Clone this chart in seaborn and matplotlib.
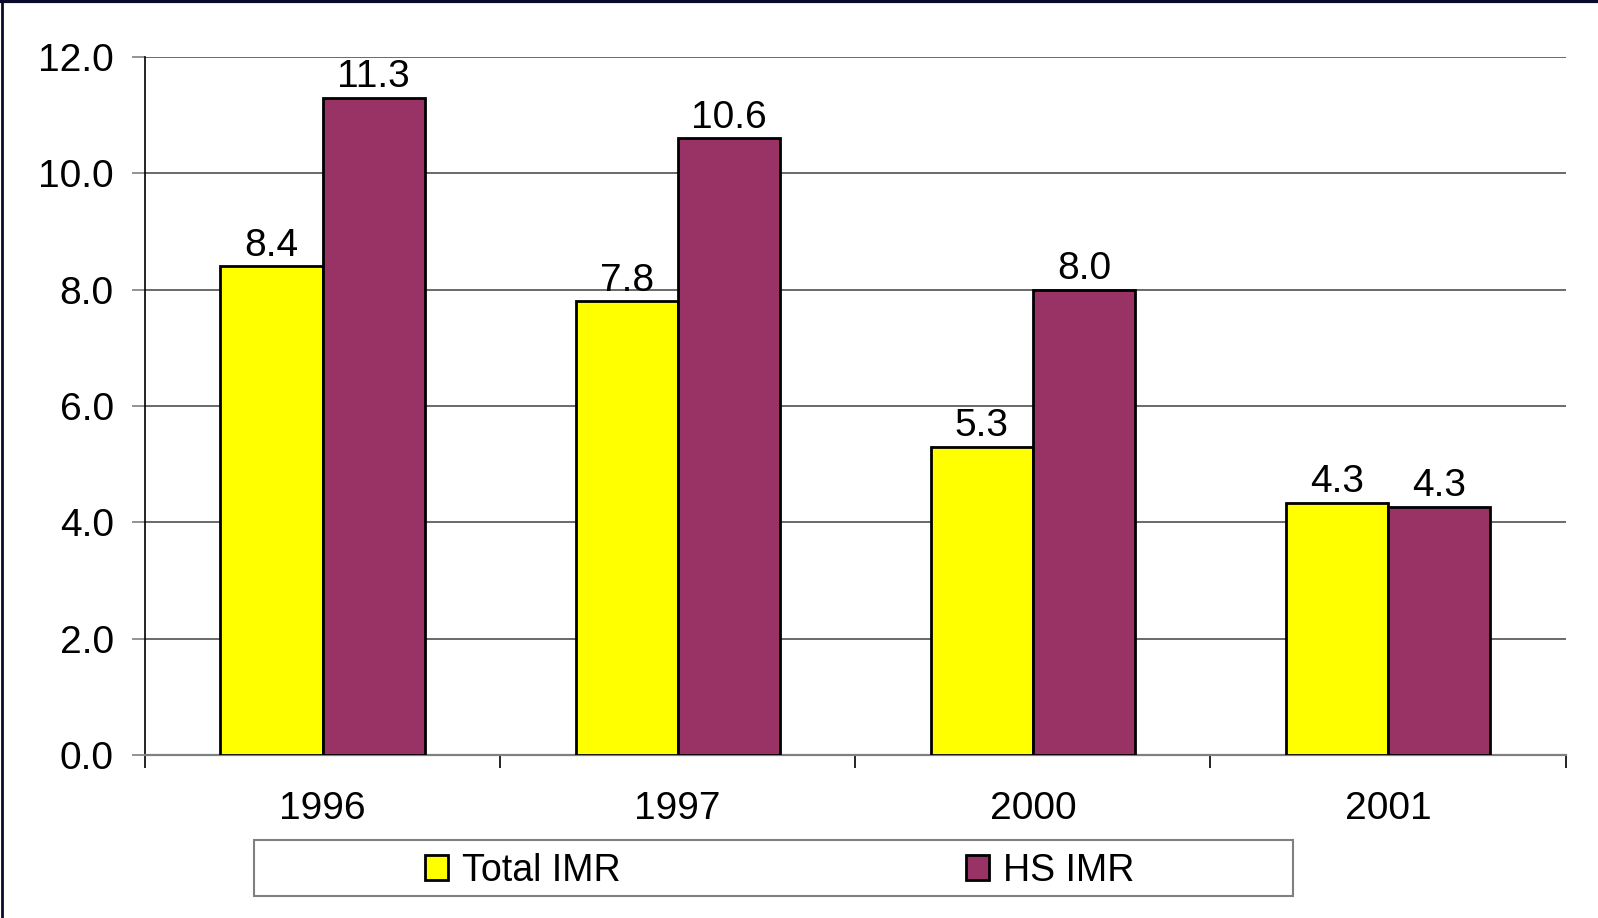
import pandas as pd
import numpy as np
import matplotlib.pyplot as plt
import seaborn as sns
from matplotlib.patches import Rectangle
from matplotlib.lines import Line2D

years = ['1996', '1997', '2000', '2001']
total_imr = [8.4, 7.8, 5.3, 4.34]
hs_imr = [11.3, 10.6, 8.0, 4.27]
series_names = ['Total IMR', 'HS IMR']
colors = ['#FFFF00', '#993366']
y_ticks = [0, 2, 4, 6, 8, 10, 12]

df = pd.DataFrame({
    'year': years * 2,
    'value': total_imr + hs_imr,
    'series': [series_names[0]] * len(years) + [series_names[1]] * len(years),
})

sns.set_style("white")
plt.rcParams['font.family'] = ['Liberation Sans', 'DejaVu Sans']
plt.rcParams['text.color'] = 'black'
plt.rcParams['xtick.labelcolor'] = 'black'
plt.rcParams['ytick.labelcolor'] = 'black'

fs = 28

fig = plt.figure(figsize=(15.98, 9.18), dpi=100)
ax = fig.add_axes([0.0907, 0.1776, 0.889, 0.7603])

sns.barplot(data=df, x='year', y='value', hue='series', palette=colors,
            width=0.575, edgecolor='black', linewidth=2, saturation=1,
            ax=ax, legend=True, zorder=3)

# value labels
for cont in ax.containers:
    ax.bar_label(cont, fmt='%.1f', padding=2, fontsize=fs, color='black', zorder=4)

ax.set_ylim(0, 12)
ax.set_xlim(-0.5, 3.5)
ax.set_yticks(y_ticks)
ax.set_yticklabels([f'{v:.1f}' for v in y_ticks], fontsize=fs)
ax.yaxis.grid(True, color='#505050', linewidth=1.2, zorder=0)
ax.xaxis.grid(False)
ax.set_xlabel('')
ax.set_ylabel('')

ax.tick_params(axis='y', length=9.5, width=1.2, color='#808080', pad=13, left=True)
ax.tick_params(axis='x', which='major', length=0, pad=26, labelsize=fs)
ax.set_xticks(np.arange(-0.5, 4.0, 1.0), minor=True)
ax.tick_params(axis='x', which='minor', length=9, width=1.2, color='black', bottom=True)

for s in ['top', 'right']:
    ax.spines[s].set_visible(False)
ax.spines['left'].set_color('black')
ax.spines['left'].set_linewidth(1.2)
ax.spines['bottom'].set_color('#808080')
ax.spines['bottom'].set_linewidth(1.6)

# legend below the plot in a wide box
handles, labels = ax.get_legend_handles_labels()
ax.get_legend().remove()
fig.add_artist(Rectangle((0.159, 0.024), 0.650, 0.061, transform=fig.transFigure,
                         facecolor='white', edgecolor='#808080', linewidth=1.5))
fig.legend(handles, labels, loc='center', bbox_to_anchor=(0.488, 0.0515), ncol=2,
           frameon=False, fontsize=27, handlelength=0.62, handleheight=0.62,
           handletextpad=0.37, columnspacing=9.2)

# dark frame edges at top and left
fig.add_artist(Line2D([0, 1], [0.999, 0.999], transform=fig.transFigure, color='#0a0a2a', linewidth=3))
fig.add_artist(Line2D([0.001, 0.001], [0, 1], transform=fig.transFigure, color='#0a0a2a', linewidth=2))

plt.savefig('out.png', dpi=100)
